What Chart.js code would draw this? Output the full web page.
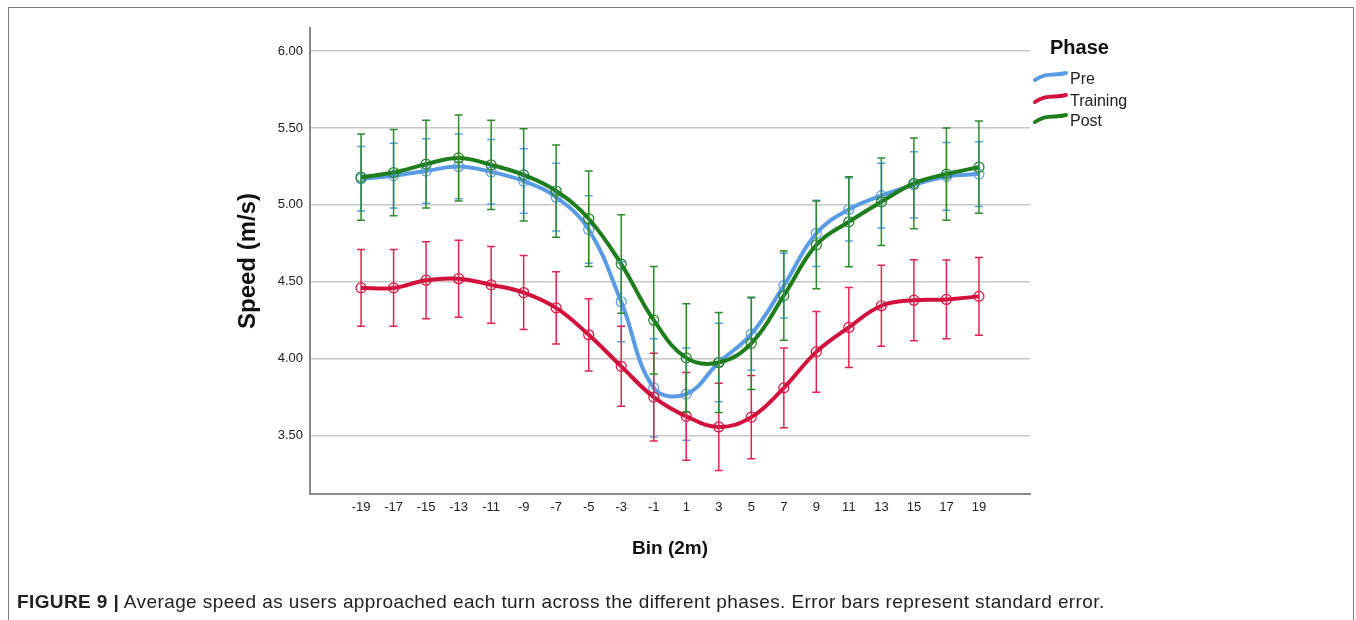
<html>
<head>
  <title>Average speed per bin across phases</title>
  <script src="https://cdn.jsdelivr.net/npm/chart.js@4.4.0/dist/chart.umd.min.js"></script>
  <style>
    body { margin: 0; background: #fff; font-family: "Liberation Sans", Arial, sans-serif; }
    #frame { position: absolute; left: 8px; top: 7px; width: 1344px; height: 700px;
             border: 1.5px solid #7a7a7a; border-bottom: none; }
    #chart { position: absolute; left: 0; top: 0; }
    #caption { position: absolute; left: 17px; top: 591px; font-size: 19px; letter-spacing: 0.4px;
               color: #222; white-space: nowrap; }
  </style>
</head>
<body>
  <div id="frame"></div>
  <canvas id="chart" width="1356" height="620"></canvas>
  <div id="caption"><b>FIGURE 9 |</b> Average speed as users approached each turn across the different phases. Error bars represent standard error.</div>
<script>
// bins (2 m each) relative to the turn
const bins = [-19, -17, -15, -13, -11, -9, -7, -5, -3, -1, 1, 3, 5, 7, 9, 11, 13, 15, 17, 19];
const binLabels = bins.map(String);
const yTicks = [3.5, 4.0, 4.5, 5.0, 5.5, 6.0];

// mean speed (m/s)
const preMean      = [5.17, 5.19, 5.22, 5.25, 5.215, 5.155, 5.05, 4.84, 4.37, 3.81, 3.77, 3.975, 4.16, 4.475, 4.815, 4.97, 5.06, 5.13, 5.185, 5.20];
const trainingMean = [4.46, 4.46, 4.51, 4.52, 4.48, 4.43, 4.33, 4.155, 3.95, 3.75, 3.625, 3.556, 3.62, 3.81, 4.044, 4.203, 4.344, 4.38, 4.385, 4.405];
const postMean     = [5.18, 5.21, 5.265, 5.305, 5.26, 5.195, 5.09, 4.91, 4.615, 4.25, 4.005, 3.975, 4.10, 4.41, 4.74, 4.89, 5.02, 5.14, 5.20, 5.245];

// standard error
const preSE      = [0.21, 0.21, 0.21, 0.21, 0.21, 0.21, 0.22, 0.22, 0.26, 0.32, 0.30, 0.255, 0.235, 0.21, 0.215, 0.205, 0.21, 0.215, 0.22, 0.21];
const trainingSE = [0.25, 0.25, 0.25, 0.25, 0.25, 0.24, 0.235, 0.235, 0.26, 0.285, 0.285, 0.284, 0.27, 0.26, 0.262, 0.26, 0.263, 0.263, 0.256, 0.253];
const postSE     = [0.28, 0.28, 0.285, 0.28, 0.29, 0.30, 0.30, 0.31, 0.32, 0.35, 0.352, 0.325, 0.30, 0.29, 0.285, 0.292, 0.285, 0.295, 0.30, 0.30];

const series = [
  { label: "Pre",      mean: preMean,      se: preSE,      line: "#5a9be6", bar: "#5aa0ea", order: 2 },
  { label: "Training", mean: trainingMean, se: trainingSE, line: "#d2103c", bar: "#e0244f", order: 1 },
  { label: "Post",     mean: postMean,     se: postSE,     line: "#1e7e1e", bar: "#2e8a2e", order: 0 },
];

// error bars + titles + legend drawn on the canvas
const extras = {
  id: "extras",
  afterDatasetsDraw(chart) {
    const { ctx, scales: { x, y } } = chart;
    ctx.save();
    ctx.lineWidth = 1.5;
    series.forEach(s => {
      ctx.strokeStyle = s.bar;
      bins.forEach((b, i) => {
        const px = x.getPixelForValue(b);
        const top = y.getPixelForValue(s.mean[i] + s.se[i]);
        const bot = y.getPixelForValue(s.mean[i] - s.se[i]);
        ctx.beginPath();
        ctx.moveTo(px, top); ctx.lineTo(px, bot);
        ctx.moveTo(px - 4, top); ctx.lineTo(px + 4, top);
        ctx.moveTo(px - 4, bot); ctx.lineTo(px + 4, bot);
        ctx.stroke();
      });
    });
    ctx.restore();
  },
  afterDraw(chart) {
    const { ctx, chartArea: a } = chart;
    ctx.save();
    ctx.fillStyle = "#111";
    // axis titles
    ctx.font = "bold 19px 'Liberation Sans', Arial";
    ctx.textAlign = "center";
    ctx.textBaseline = "alphabetic";
    ctx.fillText("Bin (2m)", (a.left + a.right) / 2, 554);
    ctx.save();
    ctx.translate(255, (a.top + a.bottom) / 2);
    ctx.rotate(-Math.PI / 2);
    ctx.font = "bold 24px 'Liberation Sans', Arial";
    ctx.fillText("Speed (m/s)", 0, 0);
    ctx.restore();
    // legend
    ctx.textAlign = "left";
    ctx.font = "bold 20px 'Liberation Sans', Arial";
    ctx.fillText("Phase", 1050, 54);
    ctx.font = "16px 'Liberation Sans', Arial";
    const baselines = [84, 106, 126];
    series.forEach((s, i) => {
      const yb = baselines[i];
      ctx.strokeStyle = s.line;
      ctx.lineWidth = 4;
      ctx.lineCap = "round";
      ctx.beginPath();
      ctx.moveTo(1035, yb - 4);
      ctx.bezierCurveTo(1046, yb - 12, 1055, yb - 8, 1066, yb - 11);
      ctx.stroke();
      ctx.fillStyle = "#222";
      ctx.fillText(s.label, 1070, yb);
    });
    ctx.restore();
  }
};

new Chart(document.getElementById("chart"), {
  type: "line",
  data: {
    datasets: series.map(s => ({
      label: s.label,
      data: bins.map((b, i) => ({ x: b, y: s.mean[i] })),
      borderColor: s.line,
      borderWidth: 4,
      tension: 0.4,
      pointRadius: 5,
      pointBorderWidth: 1.2,
      pointBackgroundColor: "rgba(0,0,0,0)",
      pointBorderColor: s.line,
      order: s.order,
    })),
  },
  options: {
    responsive: false,
    animation: false,
    layout: { padding: { left: 0, top: 28, right: 326, bottom: 0 } },
    plugins: { legend: { display: false }, tooltip: { enabled: false } },
    scales: {
      x: {
        type: "linear",
        min: -22.14,
        max: 22.14,
        afterBuildTicks: sc => { sc.ticks = bins.map(v => ({ value: v })); },
        afterFit: sc => { sc.height = 126; },
        ticks: {
          callback: (v) => binLabels[bins.indexOf(v)],
          color: "#222",
          font: { family: "'Liberation Sans', Arial", size: 13 },
          padding: 6,
          maxRotation: 0,
          autoSkip: false,
        },
        grid: { display: false, drawTicks: false },
        border: { color: "#8a8a8a", width: 2 },
      },
      y: {
        min: 3.12,
        max: 6.15,
        afterBuildTicks: sc => { sc.ticks = yTicks.map(v => ({ value: v })); },
        afterFit: sc => { sc.width = 310; },
        ticks: {
          callback: v => v.toFixed(2),
          color: "#222",
          font: { family: "'Liberation Sans', Arial", size: 13 },
          padding: 7,
        },
        grid: { color: "#c8c8c8", lineWidth: 1.5, drawTicks: false },
        border: { color: "#8a8a8a", width: 2 },
      },
    },
  },
  plugins: [extras],
});
</script>
</body>
</html>
